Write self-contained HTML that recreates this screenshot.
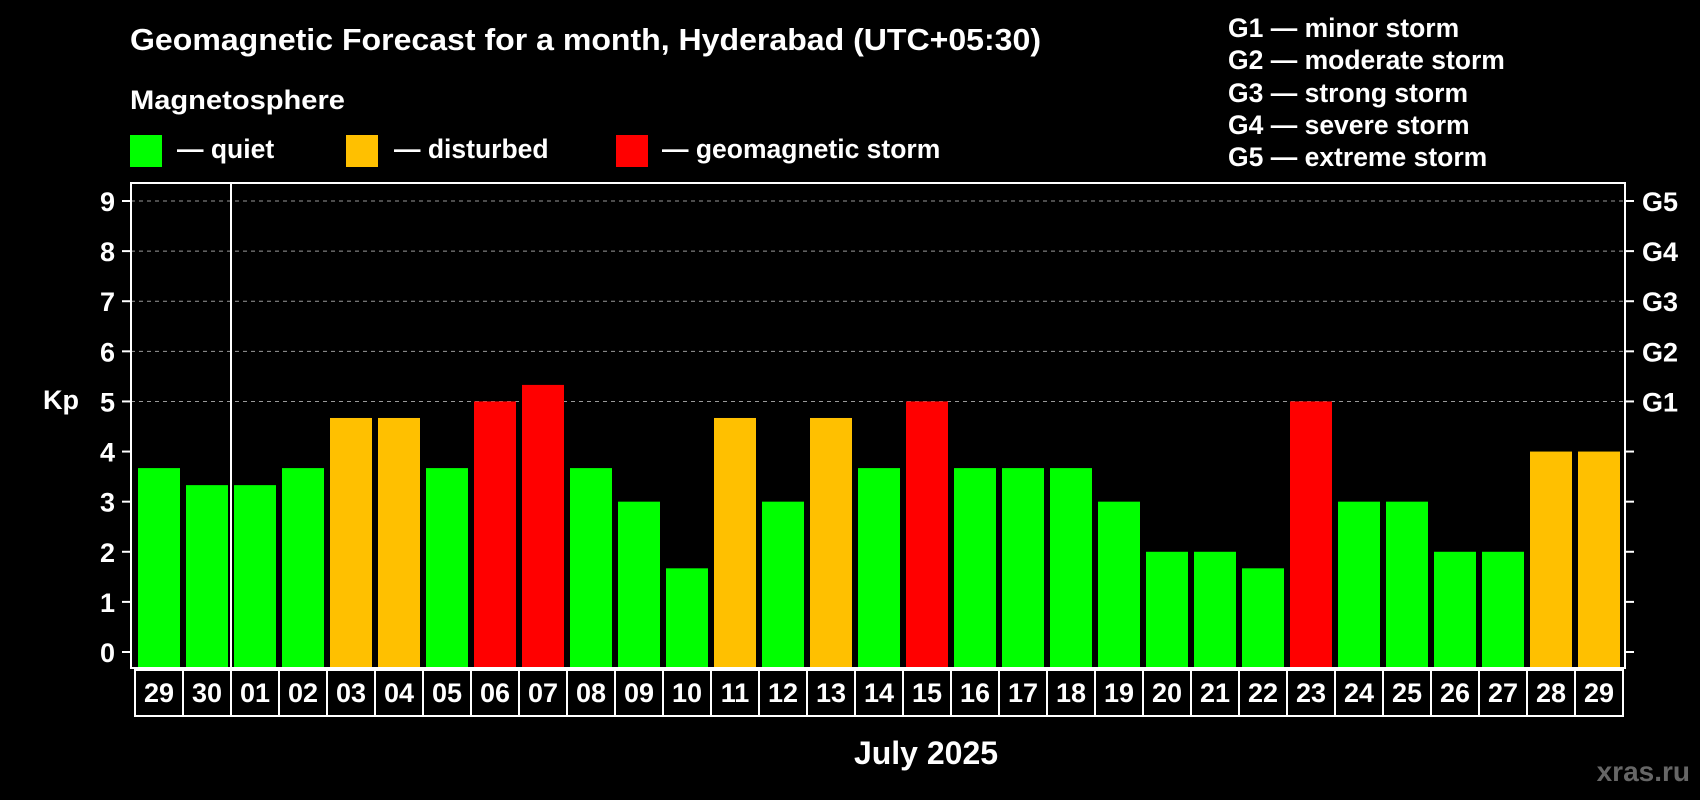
<!DOCTYPE html>
<html><head><meta charset="utf-8"><style>
html,body{margin:0;padding:0;background:#000;}
svg{display:block;font-family:"Liberation Sans",Arial,sans-serif;font-weight:bold;}
</style></head><body>
<svg id="chart" width="1700" height="800" viewBox="0 0 1700 800">
<rect x="0" y="0" width="1700" height="800" fill="#000"/>
<text x="130" y="50" fill="#fff" font-size="31" textLength="911" lengthAdjust="spacingAndGlyphs">Geomagnetic Forecast for a month, Hyderabad (UTC+05:30)</text>
<text x="130" y="109" fill="#fff" font-size="27" textLength="215" lengthAdjust="spacingAndGlyphs">Magnetosphere</text>
<g><rect x="130" y="135" width="32" height="32" fill="#00ff00"/><text x="177" y="158" fill="#fff" font-size="26.5">— quiet</text></g>
<g><rect x="346" y="135" width="32" height="32" fill="#ffc000"/><text x="394" y="158" fill="#fff" font-size="26.5">— disturbed</text></g>
<g><rect x="616" y="135" width="32" height="32" fill="#ff0000"/><text x="662" y="158" fill="#fff" font-size="26.5">— geomagnetic storm</text></g>
<g fill="#fff" font-size="26.5">
<text x="1228" y="37">G1 — minor storm</text>
<text x="1228" y="69">G2 — moderate storm</text>
<text x="1228" y="102">G3 — strong storm</text>
<text x="1228" y="134">G4 — severe storm</text>
<text x="1228" y="166">G5 — extreme storm</text>
</g>
<text x="43" y="409" fill="#fff" font-size="27">Kp</text>
<text x="926" y="764" fill="#fff" font-size="32" text-anchor="middle">July 2025</text>
<text x="1690" y="781" fill="#666" font-size="28" text-anchor="end">xras.ru</text>
<g id="plot"></g>
</svg>
<script>
const days = ["29","30","01","02","03","04","05","06","07","08","09","10","11","12","13","14","15","16","17","18","19","20","21","22","23","24","25","26","27","28","29"];
const kp = [3.67,3.33,3.33,3.67,4.67,4.67,3.67,5,5.33,3.67,3,1.67,4.67,3,4.67,3.67,5,3.67,3.67,3.67,3,2,2,1.67,5,3,3,2,2,4,4];
const status = ["q","q","q","q","d","d","q","s","s","q","q","q","d","q","d","q","s","q","q","q","q","q","q","q","s","q","q","q","q","d","d"];
const yTicks = [0,1,2,3,4,5,6,7,8,9];
const gLabels = ["G1","G2","G3","G4","G5"];
const colors = {q:"#00ff00", d:"#ffc000", s:"#ff0000"};
const NS = "http://www.w3.org/2000/svg";
const g = document.getElementById("plot");
const L = 131, R = 1625, T = 183, B = 668;
const y = v => 652 - v * (652 - 201) / 9;
const step = 48, x0 = 138, bw = 42;
const x = i => x0 + i * step;
function mk(tag, attrs, parent) { const e = document.createElementNS(NS, tag); for (const k in attrs) e.setAttribute(k, attrs[k]); (parent || g).appendChild(e); return e; }
yTicks.forEach(v => {
  if (v >= 5) {
    const gl = mk("line", {x1: L, x2: R, y1: y(v), y2: y(v), stroke: "#999", "stroke-width": 1, "stroke-dasharray": "4,4"});
    
    
  }
  const tk = mk("line", {x1: L - 9, x2: L, y1: y(v), y2: y(v), stroke: "#fff", "stroke-width": 2});
  
  
  const tr = mk("line", {x1: R, x2: R + 9, y1: y(v), y2: y(v), stroke: "#fff", "stroke-width": 2});
  
  
  const t = mk("text", {x: 115, y: y(v) + 10, fill: "#fff", "font-size": 27, "text-anchor": "end"});
  t.textContent = v;
  
  
});
gLabels.forEach((lab, i) => {
  const t = mk("text", {x: 1642, y: y(5 + i) + 10, fill: "#fff", "font-size": 27});
  t.textContent = lab;
  
  
});
kp.forEach((v, i) => {
  const b = mk("rect", {x: x(i), y: y(v), width: bw, height: B - y(v), fill: colors[status[i]]});
  
  
});
const frame = mk("rect", {x: L, y: T, width: R - L, height: B - T, fill: "none", stroke: "#fff", "stroke-width": 2});


const div = mk("line", {x1: x(2) - 3, x2: x(2) - 3, y1: T, y2: B, stroke: "#fff", "stroke-width": 2});


days.forEach((d, i) => {
  const c = mk("rect", {x: x(i) - 3, y: 670, width: step, height: 46, fill: "none", stroke: "#fff", "stroke-width": 2});
  
  
  const t = mk("text", {x: x(i) + bw / 2, y: 702, fill: "#fff", "font-size": 27, "text-anchor": "middle"});
  t.textContent = d;
  
  
});
</script>
</body></html>
